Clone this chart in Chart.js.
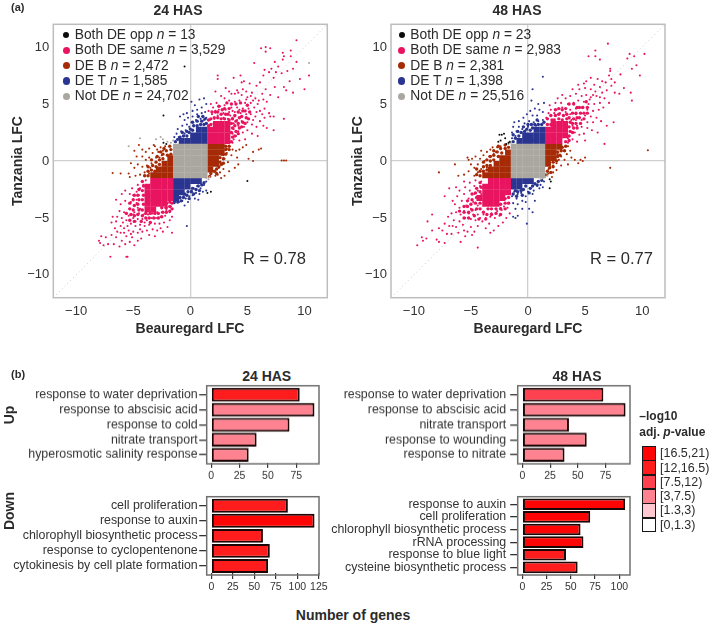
<!DOCTYPE html>
<html><head><meta charset="utf-8">
<script src="https://cdn.jsdelivr.net/npm/chart.js@4"></script>
<style>
html,body{margin:0;padding:0;background:#fff;width:709px;height:625px;overflow:hidden;font-family:"Liberation Sans",Arial,sans-serif;color:#2b2b2b}
canvas{position:absolute;display:block}
.t{position:absolute;white-space:nowrap;z-index:5;line-height:1}
.s{position:absolute;box-sizing:border-box;z-index:5}
</style></head><body>
<script>
// ---------- scatter: shared solid core of the not-DE square ----------
const notCore=[[-1.25,-1.25],[-.75,-1.25],[-.25,-1.25],[.25,-1.25],[.75,-1.25],[1.25,-1.25],[-1.25,-.75],[-.75,-.75],[-.25,-.75],[.25,-.75],[.75,-.75],[1.25,-.75],[-1.25,-.25],[-.75,-.25],[-.25,-.25],[.25,-.25],[.75,-.25],[1.25,-.25],[-1.25,.25],[-.75,.25],[-.25,.25],[.25,.25],[.75,.25],[1.25,.25],[-1.25,.75],[-.75,.75],[-.25,.75],[.25,.75],[.75,.75],[1.25,.75],[-1.25,1.25],[-.75,1.25],[-.25,1.25],[.25,1.25],[.75,1.25],[1.25,1.25]];

// ---------- 24 HAS ----------
const same24Core=[[1.75,1.75],[1.75,2.25],[1.75,2.75],[2.25,1.75],[2.25,2.25],[2.25,2.75],[2.25,3.25],[2.75,1.75],[2.75,2.25],[2.75,2.75],[2.75,3.25],[3.25,1.75],[3.25,2.25],[3.25,2.75],[3.25,3.25],[-1.75,-1.75],[-1.75,-2.25],[-1.75,-2.75],[-1.75,-3.25],[-2.25,-1.75],[-2.25,-2.25],[-2.25,-2.75],[-2.25,-3.25],[-2.25,-3.75],[-2.75,-1.75],[-2.75,-2.25],[-2.75,-2.75],[-2.75,-3.25],[-2.75,-3.75],[-3.25,-1.75],[-3.25,-2.25],[-3.25,-2.75],[-3.25,-3.25],[-3.25,-3.75],[-3.25,-4.25],[-3.75,-2.25],[-3.75,-2.75],[-3.75,-3.25],[-3.75,-3.75],[-3.75,-4.25]];
const same24Halo=[[3.6,1.7],[3.7,2.1],[3.6,2.5],[3.7,2.9],[3.6,3.3],[3.7,3.7],[3.9,2.2],[4,2.6],[3.9,3.1],[4,3.5],[3.9,4],[4.2,2.4],[4.3,2.9],[4.2,3.3],[4.3,3.8],[4.2,4.3],[4.5,3],[4.6,3.4],[4.5,3.9],[4.6,4.4],[4.8,3.3],[4.9,3.8],[4.8,4.4],[5.1,3.7],[5.2,4.3],[5,4.9],[3.4,3.6],[3.3,4.1],[3.4,4.6],[3,3.7],[3.1,4.1],[3,4.6],[2.7,3.7],[2.7,4.1],[2.8,4.5],[2.4,3.8],[2.4,4.3],[2.5,4.8],[2.1,3.3],[2.1,3.8],[2.2,4.3],[1.8,3.2],[1.8,3.7],[1.9,4.3],[1.6,3.1],[1.6,3.6],[3.6,5],[4,5],[4.4,5.1],[3.2,5.1],[-4.2,-1.8],[-4.1,-2.2],[-4.2,-2.6],[-4.1,-3],[-4.2,-3.4],[-4.1,-3.8],[-4.2,-4.3],[-4.5,-2.5],[-4.6,-3],[-4.5,-3.4],[-4.6,-3.8],[-4.5,-4.3],[-4.6,-4.7],[-4.9,-3],[-5,-3.4],[-4.9,-3.9],[-5,-4.3],[-4.9,-4.8],[-5.3,-3.7],[-5.3,-4.2],[-5.2,-4.7],[-5.3,-5.2],[-3.9,-4.6],[-4.2,-4.8],[-3.9,-5],[-4.3,-5.3],[-3.5,-4.6],[-3.6,-5],[-3.5,-5.4],[-3.1,-4.6],[-3.2,-5],[-2.8,-4.6],[-2.8,-5],[-2.5,-4.1],[-2.4,-4.5],[-2.5,-4.9],[-2.1,-3.7],[-2.1,-4.1],[-2.1,-4.5],[-1.8,-3.6],[-1.8,-4],[-1.8,-4.4],[-1.6,-3.7],[-1.6,-4.2],[-4.9,-5.3],[-5.6,-4.6]];
const same24=[[9.3,10.6],[6.2,9.9],[6.6,10],[7,9.9],[6.6,9.6],[8.1,9.5],[8.2,9.2],[8.8,9.7],[8.8,9.2],[8.1,8.9],[9.3,8.7],[10.4,7.5],[10,6.3],[5.6,8.6],[7.4,8.7],[7.7,8.3],[7.1,8.1],[7.5,7.8],[6.9,7.8],[6.5,8],[6.4,7.5],[7.3,7.3],[8,7.7],[8.5,7.9],[9,8.1],[8.7,7],[8.2,6.5],[8.4,6.2],[9,6],[9.6,7.2],[2.4,7.5],[2.4,7.2],[3.8,7.3],[4.4,7.5],
[3.6,5.9],[3.9,5.9],[4.2,6],[4.5,5.8],[4.1,6.2],[4.6,6.3],[4.9,6.1],[5,5.6],[5.4,6],[5.7,5.5],[6,5.3],[6.3,5.9],[5.8,6.6],[5.2,6.8],[4.7,7],[6.1,6.9],[6.6,6.3],[7,5.8],[7.4,6.5],[6.7,5.2],[5.3,5.1],[4.8,5.1],[4.3,5.3],[3.9,5.2],[3.4,5.3],[3,5.5],[2.7,5.7],[2.3,5.1],[2,4.7],[2.5,4.5],[3,4.9],[3.6,4.7],[4.1,4.7],[4.6,4.6],[5.1,4.6],[5.6,4.7],[6.1,4.4],[6.5,4.6],[6.9,4.2],[7,3.9],[7.3,3.9],[6.5,3.8],[6.1,3.5],[5.7,3.9],[5.3,4.1],[4.9,4.1],[4.4,4.2],[3.9,4.3],[3.4,4.3],[2.9,4.2],[2.4,4],[1.9,4.1],[1.7,3.6],[1.6,4.4],[2.1,3.7],[3.7,3.8],[4.1,3.6],[4.5,3.5],[5,3.4],[5.4,3.2],[5.8,3],[6.4,3.1],[7.3,2.7],[8.2,3.7],[6.7,2.9],[4.7,3],[4.2,3.1],[3.8,3.3],[3.8,2.8],[4.2,2.6],[4.6,2.5],[5,2.7],[5.4,2.4],[5.9,2.2],[4,2.2],[3.8,1.9],[4.3,1.8],[3.7,2.4],[4.8,1.9],[3.7,1.6],[3.9,3.9],[2.9,3.8],[3.3,3.7],[3.5,4],[3.7,4.4],[4.3,4.5],[3.1,4.5],[2.6,4.8],[2.2,4.4],[1.8,5],[5.5,5.3],[5.9,5],[6.4,5.4],[4.9,5.4],[5.3,5.7],[5.8,4.3],[6.3,4.1],[5.5,3.6],[4.5,6.9],[3.4,6.1],[3.1,6.4],[2.2,6.1],[7.7,5.6],
[-8,-7],[-7.9,-7.2],[-7.8,-6.6],[-7.6,-7.4],[-7.4,-6.7],[-7.2,-7.3],[-7,-8.4],[-6.9,-6.5],[-6.7,-7.3],[-6.5,-6.7],[-6.2,-7.5],[-6,-7],[-5.7,-7.3],[-5.5,-8.4],[-5.6,-8.4],[-5.3,-7.1],[-4.9,-7.4],[-4.6,-7],[-4.3,-6.8],[-5.1,-6.7],[-5.6,-6.6],[-6.1,-6.3],[-6.6,-5.9],[-6.9,-5.4],[-6.5,-5.3],[-6.1,-5.7],[-5.8,-5.9],[-5.4,-6.1],[-5,-6.2],[-4.6,-6.3],[-4.2,-6.2],[-3.8,-6.1],[-3.3,-6],[-2.9,-6.1],[-2.4,-6.2],[-1.6,-6.3],[-2,-5.8],[-2.3,-5.4],[-1.8,-5.2],[-2.7,-5.5],[-3.1,-5.5],[-3.6,-5.6],[-4,-5.7],[-4.4,-5.6],[-4.8,-5.7],[-5.2,-5.5],[-5.6,-5.2],[-6,-5],[-6.2,-4.4],[-6.5,-3.4],[-6.1,-3.8],[-5.8,-4.5],[-5.4,-4.8],[-5,-5],[-4.6,-5.1],[-4.2,-5.1],[-3.8,-5.2],[-3.4,-5],[-3,-5],[-2.6,-4.9],[-2.2,-4.8],[-1.8,-4.5],[-1.6,-4.9],[-5.7,-3.5],[-5.3,-4.2],[-4.9,-4.5],[-4.5,-4.6],[-4.1,-4.7],[-3.7,-4.7],[-3.3,-4.6],[-2.9,-4.5],[-2.5,-4.5],[-2.1,-4.3],[-1.7,-4],[-5.2,-3.6],[-4.9,-3.9],[-4.6,-4.1],[-4.7,-3.4],[-5,-3],[-5.3,-2.9],[-4.7,-2.7],[-4.5,-3],[-4.4,-2.4],[-4.1,-2.1],[-4.2,-1.8],[-3.9,-1.7],[-4.6,-2.1],[-5.1,-2.4],[-5.7,-2.6],[-6,-2.9],[-4.4,-4.2],[-5,-4.7],[-5.5,-5.7],[-4.8,-5.3],[-5.9,-5.4],[-3.5,-5.4],[-4,-5.4],[-2.2,-4.1],[-2,-3.7],[-4.7,-3.7],[-5.8,-6.3],[-5.2,-6.4],[-4.4,-6],[-3.6,-6.5],[-3.1,-6.6],[-2.6,-5.9],[-6.4,-6.2],[-6.8,-4.9],[-6.4,-4.9]];
const deb24Core=[[1.75,-.75],[1.75,-.25],[1.75,.25],[1.75,.75],[1.75,1.25],[2.25,-.25],[2.25,.25],[2.25,.75],[2.25,1.25],[2.75,.75],[2.75,1.25],[-1.75,-1.25],[-1.75,-.75],[-1.75,-.25],[-1.75,.25],[-2.25,-1.25],[-2.25,-.75],[-2.25,-.25],[-2.75,-1.25],[-2.75,-.75],[-3.25,-1.25]];
const deb24Halo=[[2.6,-.1],[2.6,.3],[2.9,.2],[2.8,.6],[3.1,.6],[3.1,1],[3.1,1.3],[3.4,1],[3.4,1.3],[2.5,-.5],[2.3,-.7],[2.1,-.9],[1.8,-1.1],[2.3,-1.1],[1.7,-1.35],[2.7,-.3],[2.9,-.2],[-1.7,.6],[-1.7,1],[-2,.5],[-2.1,.9],[-2.4,.2],[-2.4,.6],[-2.7,-.3],[-2.7,.1],[-2.9,.4],[-3,-.5],[-3,-.1],[-3.1,-.9],[-3.4,-.8],[-3.3,-.4],[-3.4,.1],[-3.7,-1.3],[-3.7,-.9],[-3.7,-.5],[-4,-1.3],[-1.8,1.3],[-2.3,1.1],[-2.6,.8]];
const deb24=[[3.4,1.3],[3.7,1],[3.2,.7],[3.6,.5],[4,.9],[4.3,1],[4.1,.3],[3,.2],[3.3,-.1],[2.8,-.3],[2.9,-.7],[2.5,-.6],[2.6,-1],[2.7,-1.5],[2.4,-1.2],[2.2,-1.3],[2.9,.5],[3.2,1.1],[4.6,1.2],[4.9,1.4],[5.5,.8],[5.1,.2],[6,1],[6.2,1.1],[8.2,.05],[8.4,.05],[8,.05],[5.5,0],[4.2,-.3],[3.9,-.6],[3.4,-.9],[3,-1.3],[2.2,-.9],[-6.8,-1.05],[-6.1,-1.1],[-5.4,-1.1],[-4.7,.4],[-4.9,.9],[-4.5,1.4],[-4.2,1],[-4.2,.4],[-3.9,.1],[-3.9,.8],[-3.6,.3],[-3.6,1.1],[-3.3,.7],[-3.1,1.3],[-3,.3],[-3.4,-.2],[-3.8,-.4],[-4.2,-.5],[-4.6,-.3],[-4.9,-.6],[-5.2,-.2],[-4,-1],[-3.6,-1.1],[-4.4,-1.2],[-4.8,-1.3],[-5.3,-1.4],[-2.8,.8],[-2.6,1.2],[-2.7,.3],[-2.4,.9],[-2.5,.5],[-2.9,1],[-2.2,1.3],[-3.2,1.4],[-3.5,-.6]];
const det24Core=[[-.75,1.75],[-.25,1.75],[.25,1.75],[.75,1.75],[1.25,1.75],[.25,2.25],[.75,2.25],[1.25,2.25],[.75,2.75],[1.25,2.75],[-1.25,-1.75],[-.75,-1.75],[-.25,-1.75],[.25,-1.75],[.75,-1.75],[-1.25,-2.25],[-.75,-2.25],[-.25,-2.25],[-1.25,-2.75],[-.75,-2.75],[-1.25,-3.25]];
const det24Halo=[[-1.3,1.7],[-1.1,1.9],[-.9,2.1],[-.6,2.2],[-.3,2.2],[-.1,2.5],[-.3,2.6],[0,2.8],[.2,2.7],[.3,3.1],[.6,3.1],[.9,3.2],[1.2,3.2],[1.4,3.3],[.6,3.5],[1,3.5],[1.3,3.7],[-.7,2.5],[.2,3.4],[.7,3.9],[1.1,3.9],[1,-2.1],[1.2,-1.9],[.7,-2.2],[.5,-2.5],[.2,-2.4],[.1,-2.7],[-.2,-2.7],[-.3,-3],[-.5,-2.9],[-.6,-3.2],[-.9,-3.2],[-.8,-3.5],[-1.1,-3.6],[-1.4,-3.6],[.3,-2.9],[.8,-2.6],[-.1,-3.3]];
const det24=[[.1,5.2],[.4,4.9],[.8,5.4],[1.2,5.5],[1,4.7],[1.4,5],[.6,4.5],[.2,4.4],[-.3,4.2],[-.6,4.1],[-.9,3.9],[-.5,3.6],[-.2,3.8],[.2,3.9],[.6,4.1],[1,4.2],[1.3,4.3],[.9,3.7],[.5,3.6],[.1,3.4],[-.3,3.2],[-.7,3.1],[-1.1,2.8],[-1.2,2.4],[-.8,2.6],[-.4,2.7],[-1.4,2.1],[-.1,3],[.3,3.1],[-.5,2.4],[-1,2.1],[1.4,3.8],[1.2,3.6],[.3,-2.4],[.6,-2.2],[.9,-2.4],[1.2,-2.1],[1.4,-1.8],[.5,-2.8],[.8,-2.9],[1.1,-2.7],[.2,-3],[-.1,-3.1],[.4,-3.3],[-.4,-3.3],[-.7,-3.5],[-1,-3.6],[-1.3,-3.5],[-.2,-3.6],[-.5,-3.9],[-.3,-5.7],[.7,-3.4],[1.4,-2.6],[-1.4,-3.7],[-.9,-3.3],[-.6,-3.1],[.1,-2.6]];
const opp24=[[-2.35,4],[-.5,8.3],[5,-1.75],[-2.35,1.6],[-2.1,1.5],[1.8,-2.7],[1.5,-2.8]];
const not24=[[-5.4,1.3],[-4.4,2],[-2.6,2.1],[-2.4,1.9],[-2,1.7],[-1.7,1.6],[-1.5,1.8],[-3,1.9],[1.7,-1.4],[1.6,-1.6],[1.4,-1.5],[10.4,8.6]];

// ---------- 48 HAS ----------
const same48Core=[[1.75,1.75],[1.75,2.25],[1.75,2.75],[2.25,1.75],[2.25,2.25],[2.25,2.75],[2.25,3.25],[2.75,1.75],[2.75,2.25],[2.75,2.75],[2.75,3.25],[3.25,2.25],[3.25,2.75],[3.25,3.25],[-1.75,-1.75],[-1.75,-2.25],[-1.75,-2.75],[-2.25,-1.75],[-2.25,-2.25],[-2.25,-2.75],[-2.25,-3.25],[-2.75,-1.75],[-2.75,-2.25],[-2.75,-2.75],[-2.75,-3.25],[-2.75,-3.75],[-3.25,-1.75],[-3.25,-2.25],[-3.25,-2.75],[-3.25,-3.25],[-3.25,-3.75],[-3.75,-2.25],[-3.75,-2.75],[-3.75,-3.25],[-3.75,-3.75],[-4.25,-3.25]];
const same48Halo=[[3.3,1.7],[3.6,1.8],[3.6,2.2],[3.7,2.6],[3.6,3],[3.7,3.4],[3.6,3.8],[3.9,2.5],[4,2.9],[3.9,3.3],[4,3.7],[3.9,4.2],[4.3,2.9],[4.2,3.3],[4.3,3.8],[4.2,4.2],[4.3,4.7],[4.6,3.3],[4.5,3.8],[4.6,4.2],[4.5,4.7],[4.9,3.7],[4.9,4.2],[4.8,4.7],[5.2,4.2],[5.2,4.7],[5.1,5.2],[3.4,3.7],[3.4,4.1],[3.3,4.6],[3,3.6],[3.1,4],[3,4.5],[2.7,3.7],[2.7,4.1],[2.7,4.6],[2.3,3.6],[2.4,4],[2.4,4.5],[2,3.2],[2.1,3.6],[2,4],[1.7,3.2],[1.7,3.7],[3.6,5],[4,5],[-4.2,-1.9],[-4.1,-2.3],[-4.2,-2.7],[-4.5,-2.4],[-4.6,-2.8],[-4.5,-3.2],[-4.6,-3.7],[-4.2,-3.7],[-4.2,-4.2],[-4.5,-4.2],[-4.9,-2.9],[-4.9,-3.4],[-5,-3.8],[-4.9,-4.3],[-5.3,-3.5],[-5.3,-4],[-5.2,-4.5],[-5.6,-4],[-5.6,-4.5],[-5.6,-5],[-5.2,-5],[-4.7,-4.8],[-3.9,-4.5],[-3.5,-4.2],[-3.6,-4.7],[-3.2,-4.2],[-3.2,-4.7],[-2.8,-4.2],[-2.8,-4.6],[-2.4,-3.8],[-2.4,-4.2],[-2.4,-4.7],[-2,-3.3],[-2,-3.7],[-2,-4.2],[-1.7,-3.2],[-1.7,-3.7],[-4.3,-5.1],[-3.7,-5.1],[-6,-4.4]];
const same48=[[7,10.3],[5.9,9.7],[5.3,9.2],[5.9,9.2],[6.3,8.9],[8.9,9.4],[10.2,9.4],[9.3,9.2],[8.7,9],[9.5,8.4],[9.1,8.1],[9.8,7.5],[8.1,7.6],[7.2,7.9],[7.2,8.1],[7.1,7.5],[6.8,6.9],[8.4,6.4],[9,6],[9.1,5.3],[8,5.9],[7.1,5.1],[7.5,3.4],[6.7,1.5],[6.9,3.1],[7.3,7.2],[6.5,7],[6.1,7.2],[5.5,7.3],[5.1,7],[4.9,6.8],[5.8,6.7],[6.3,6.5],[6.9,6.2],[7.3,6.6],[7.6,6],[5.5,6.3],[5,6.4],[4.5,6.3],[5.7,5.8],[6,5.7],[6.3,5.6],[5.5,5.6],[5.1,5.8],[4.7,5.7],[4.2,5.9],[3.7,5.7],[3.3,5.5],[2.9,5.1],[2.4,5.1],[1.9,4.9],[2,4.5],[2.5,4.5],[3,4.7],[3.5,5],[4,5.1],[4.4,5.3],[4.9,5.2],[5.3,5],[5.8,5],[6.3,5.1],[6.6,4.7],[6.2,4.5],[5.7,4.4],[5.2,4.5],[4.7,4.7],[4.2,4.6],[3.7,4.5],[3.3,4.3],[2.8,4.2],[2.3,4.2],[1.8,4.2],[1.6,3.8],[3.7,4.1],[4.2,4.1],[4.6,4.2],[5,4],[5.5,3.9],[6,3.8],[6.4,3.5],[5.7,3.4],[5.2,3.4],[4.7,3.6],[4.2,3.6],[3.8,3.6],[3.9,3.1],[4.3,3.1],[4.7,3],[5.2,2.9],[5.6,2.7],[6.1,2.5],[3.7,2.6],[4.1,2.5],[4.5,2.3],[4.9,2.4],[3.5,2],[3.9,1.9],[4.3,1.7],[3.5,1.6],[5,1.8],[5.4,5.4],[5.9,6.1],[6.5,6],[4.4,6.7],[3.9,6.3],[3,5.8],[2.6,5.5],[7.6,6.9],[6.7,5.5],
[-9.7,-7.4],[-9.3,-6.7],[-9.2,-7],[-8.9,-6.8],[-8.4,-4.7],[-8.8,-5.3],[-8,-6.9],[-7.8,-7.1],[-7.3,-7.2],[-8.4,-6.1],[-6.7,-6.4],[-5.9,-7.1],[-4.4,-7.6],[-6.9,-2.4],[-7.3,-3.1],[-5.6,-6.1],[-7.8,-5.9],[-7.5,-6.1],[-7.3,-5.5],[-7.1,-6.4],[-6.9,-5.7],[-6.5,-5.2],[-6.3,-5.8],[-6,-5.3],[-5.7,-5.6],[-5.3,-6.2],[-5,-5.8],[-4.7,-6.2],[-4.4,-5.7],[-4,-5.3],[-3.7,-5.9],[-3.4,-5.5],[-3,-6.1],[-2.6,-5.7],[-2.2,-5.4],[-1.9,-5],[-2.5,-4.8],[-2.9,-5],[-3.3,-4.9],[-3.7,-5],[-4.2,-5],[-4.6,-5.2],[-5,-5.1],[-5.5,-5],[-5.9,-4.7],[-6.3,-4.5],[-6.7,-4.6],[-6.4,-3.8],[-6,-4.1],[-5.6,-4.4],[-5.2,-4.6],[-4.8,-4.7],[-4.4,-4.7],[-3.9,-4.7],[-3.2,-4.6],[-2.7,-4.4],[-2.3,-4.3],[-1.8,-4.1],[-1.6,-4.6],[-6.2,-3.1],[-5.8,-3.5],[-5.4,-3.9],[-5,-4.2],[-4.6,-4.3],[-4.4,-3.9],[-4.8,-3.6],[-5.2,-3.3],[-5.6,-2.9],[-6,-2.6],[-6.3,-2.3],[-5.5,-2.3],[-5.1,-2.6],[-4.7,-2.9],[-4.4,-2.6],[-4.7,-2.2],[-4.2,-2.2],[-4.1,-1.8],[-4.6,-1.7],[-5.1,-1.9],[-5.6,-1.8],[-4.1,-2.9],[-2.1,-4],[-2.4,-4.1],[-1.7,-3.7],[-6.1,-6.3],[-5.5,-6.6],[-4.9,-6.5],[-6.6,-5.7],[-7,-4.9],[-6.6,-3.5],[-3.3,-6.3]];
const deb48Core=[[1.75,-.25],[1.75,.25],[1.75,.75],[1.75,1.25],[2.25,.25],[2.25,.75],[2.25,1.25],[2.75,1.25],[-1.75,-1.25],[-1.75,-.75],[-1.75,-.25],[-1.75,.25],[-1.75,.75],[-2.25,-1.25],[-2.25,-.75],[-2.25,-.25],[-2.25,.25],[-2.75,-1.25],[-2.75,-.75],[-2.75,-.25],[-3.25,-1.25],[-3.25,-.75],[-3.75,-1.25]];
const deb48Halo=[[2.6,.4],[2.6,.8],[2.9,.9],[3,1.2],[3.2,.9],[2.5,0],[2.2,-.1],[2.2,-.5],[1.9,-.6],[1.7,-.9],[2,-1],[1.6,-1.2],[2.8,.5],[3.3,1.3],[-1.7,1.2],[-2,1.1],[-2,1.4],[-2.3,.7],[-2.4,1.1],[-2.6,.4],[-2.7,.8],[-3,.1],[-3,.5],[-3,.9],[-3.3,-.4],[-3.3,0],[-3.3,.4],[-3.6,-.8],[-3.6,-.4],[-3.6,.1],[-3.9,-.9],[-3.9,-.5],[-3.9,-.1],[-4.2,-1.3],[-4.2,-.9],[-4.5,-1.2],[-4.5,-.7],[-2.6,1.3]];
const deb48=[[10.5,.95],[7.2,-.6],[5,.3],[4.8,0],[4.4,-.2],[4.1,.1],[4.6,.1],[3.7,.9],[3.4,.6],[3.1,.9],[3.5,1.3],[2.9,.4],[3.2,.1],[2.7,.1],[2.6,.6],[2.5,-.2],[2.9,-.4],[2.2,-.4],[2.5,-.8],[2.2,-1],[1.8,-.7],[1.8,-1.1],[2.1,-1.4],[3.5,-.3],[2.9,1.1],[3.8,.3],[-7.8,-1],[-6.4,-.3],[-5.3,.3],[-5.2,.1],[-4.9,.2],[-5,-.3],[-4.7,-.6],[-4.4,-.3],[-4.6,.4],[-4.1,.9],[-4.2,.2],[-3.9,.5],[-3.6,.8],[-3.8,0],[-3.4,.4],[-3.3,1],[-3.1,1.2],[-2.8,.8],[-2.7,1.2],[-3,.6],[-2.4,1.3],[-4.4,-1],[-4.1,-.7],[-3.9,-.5],[-4.7,-1.3],[-5.2,-.9],[-5.6,-1.2],[-4.2,-1.3],[-3.6,-.6],[-6.1,-1.3]];
const det48Core=[[-.75,1.75],[-.25,1.75],[.25,1.75],[.75,1.75],[1.25,1.75],[-.25,2.25],[.25,2.25],[.75,2.25],[1.25,2.25],[.75,2.75],[1.25,2.75],[-1.25,-1.75],[-.75,-1.75],[-.25,-1.75],[.25,-1.75],[-1.25,-2.25],[-.75,-2.25]];
const det48Halo=[[-1.3,1.7],[-1.1,2],[-.8,2.2],[-.6,2.5],[-.9,2.6],[-.3,2.6],[-.1,2.8],[.2,2.7],[.4,2.9],[.3,3.2],[.6,3.2],[.9,3.2],[1.2,3.2],[1.4,3.4],[.8,3.6],[-1.3,2.3],[-.4,3],[0,3.2],[.6,1.8],[.9,-1.8],[.8,-2.1],[.6,-2],[1.2,-1.7],[.4,-2.2],[.2,-2.4],[-.2,-2.2],[-.4,-2.5],[-.6,-2.6],[-.9,-2.7],[-1.1,-2.6],[-1.3,-2.9],[-1,-3.1],[-.5,-3],[.1,-2.8]];
const det48=[[1.3,7.4],[.4,6.3],[.3,5.3],[.9,5],[1.4,5.1],[.6,4.6],[1,4.5],[.2,4.4],[-.1,4.1],[.4,4],[.8,4],[1.3,4.3],[-.4,3.8],[-.8,3.5],[-1.2,3.4],[-1.3,3],[-.8,3],[-.3,3.3],[.1,3.5],[.5,3.4],[.9,3.5],[1.3,3.6],[-1,2.6],[-.5,2.8],[0,3],[-1.4,2.5],[-1.1,2.2],[-1.4,2],[-.2,2.7],[.7,3.1],[1,-2.4],[.8,-2.2],[.5,-2.6],[1.1,-2.1],[1.4,-1.8],[1.3,-2.3],[.2,-2.4],[.4,-2.9],[0,-2.7],[-.2,-3.1],[-.6,-2.8],[-.9,-2.9],[-1.2,-2.7],[-1.4,-3.1],[-1,-3.3],[-.5,-3.5],[-.2,-3.6],[-1.3,-3.7],[-.9,-3.8],[-1.1,-4.2],[.1,-4.2],[.4,-4.5],[-.9,-4.8],[-1.3,-4.9],[-1.1,-5],[-.1,-5.5],[-.5,-4.2],[.6,-3.5]];
const opp48=[[-2.5,2.3],[-2.3,2.3],[-2.1,2.4],[-2.6,1.7],[-2.4,1.8],[-2,2],[-1.7,1.6],[-1.6,1.7],[-1.9,1.5],[1.9,-1.6],[1.9,-2.4],[2,-1.8]];
const not48=[[1.7,-1.3],[1.5,-1.4],[1.3,-1.5],[1.1,-1.6],[1.6,-1.1],[-1.7,1.5],[-1.5,1.6]];

// ---------- axes of the scatter panels ----------
const lfcTicks=[-10,-5,0,5,10];
const diagonal=[[-12,-12],[12,12]];
const groupColours={opp:'#0b0b0b',same:'#E8145F',deb:'#A62A06',det:'#2A3591',not:'#AAA6A0'};

// ---------- bars ----------
const up24Cats=['response to water deprivation','response to abscisic acid','response to cold','nitrate transport','hyperosmotic salinity response'];
const up24Vals=[78,91,69,40,33];
const up24Bins=[1,3,3,3,3];
const down24Cats=['cell proliferation','response to auxin','chlorophyll biosynthetic process','response to cyclopentenone','cytokinesis by cell plate formation'];
const down24Vals=[89,120,60,68,66];
const down24Bins=[1,0,1,1,1];
const up48Cats=['response to water deprivation','response to abscisic acid','nitrate transport','response to wounding','response to nitrate'];
const up48Vals=[73,93,42,58,38];
const up48Bins=[2,3,3,3,3];
const down48Cats=['response to auxin','cell proliferation','chlorophyll biosynthetic process','rRNA processing','response to blue light','cysteine biosynthetic process'];
const down48Vals=[106,70,60,63,45,57];
const down48Bins=[0,0,0,0,1,1];
const binLabels=['[16.5,21)','[12,16.5)','[7.5,12)','[3,7.5)','[1.3,3)','[0,1.3)'];
const binColours=['#FF0404','#FF1C1C','#FF4150','#FF8290','#FFC8D0','#FFFFFF'];

const FF='"Liberation Sans",Arial,sans-serif';
function txt(x,y,html,o={}){
  const d=document.createElement('div');d.className='t';d.innerHTML=html;
  d.style.left=x+'px';d.style.top=y+'px';
  d.style.fontSize=(o.size||13)+'px';d.style.fontWeight=o.bold?'700':'400';
  if(o.color)d.style.color=o.color;
  d.style.transform=(o.left?'translate(0,-50%)':'translate(-50%,-50%)')+(o.rot?' rotate(-90deg)':'');
  document.body.appendChild(d);
}
function cv(l,t,w,h){
  const c=document.createElement('canvas');
  c.width=w;c.height=h;c.style.left=l+'px';c.style.top=t+'px';c.style.width=w+'px';c.style.height=h+'px';
  document.body.appendChild(c);return c;
}
const frame=(col,lw,inset=0)=>({id:'frame',afterDraw(ch){const a=ch.chartArea,g=ch.ctx;g.save();g.strokeStyle=col;g.lineWidth=lw;g.strokeRect(a.left,a.top-inset,a.right-a.left,a.bottom-a.top+2*inset);g.restore();}});

function pts(data,colour,r,style,order){return {type:'scatter',data,backgroundColor:colour,pointBackgroundColor:colour,pointBorderWidth:0,pointRadius:r,pointHoverRadius:r,pointStyle:style,showLine:false,order};}

function scatter(l,boxL,sets){
  const w=340,h=325,top=24.3,boxW=274,boxH=273.4;
  new Chart(cv(l,0,w,h),{
    data:{datasets:[
      {type:'line',data:diagonal,borderColor:'#c9c9c9',borderWidth:1,borderDash:[1,3],pointRadius:0,order:10},
      pts(sets.sameCore,groupColours.same,4.2,'rect',6),
      pts(sets.debCore,groupColours.deb,4.2,'rect',6),
      pts(sets.detCore,groupColours.det,4.2,'rect',6),
      pts(sets.sameHalo,groupColours.same,1.7,'circle',7),
      pts(sets.debHalo,groupColours.deb,1.7,'circle',7),
      pts(sets.detHalo,groupColours.det,1.7,'circle',7),
      pts(sets.same,groupColours.same,1.05,'circle',7),
      pts(sets.deb,groupColours.deb,1.05,'circle',7),
      pts(sets.det,groupColours.det,1.05,'circle',7),
      pts(notCore,groupColours.not,4.2,'rect',3),
      pts(sets.not,groupColours.not,1,'circle',4),
      pts(sets.opp,groupColours.opp,1,'circle',1)
    ]},
    options:{
      responsive:false,animation:false,events:[],
      layout:{padding:{top,left:0,right:w-(boxL-l)-boxW,bottom:h-top-boxH-20}},
      plugins:{legend:{display:false},tooltip:{enabled:false}},
      scales:{
        x:{type:'linear',min:-12,max:12,afterBuildTicks:s=>{s.ticks=lfcTicks.map(value=>({value}));},afterFit:s=>{s.height=20;s.paddingLeft=0;s.paddingRight=0;},
          grid:{drawTicks:false,lineWidth:1.3,color:c=>c.tick&&c.tick.value===0?'#cfcfcf':'rgba(0,0,0,0)'},border:{display:false},
          ticks:{padding:5.5,color:'#333',font:{family:FF,size:13},maxRotation:0,autoSkip:false,callback:v=>String(v).replace('-','\u2212')}},
        y:{type:'linear',min:-12,max:12,afterBuildTicks:s=>{s.ticks=lfcTicks.map(value=>({value}));},afterFit:s=>{s.width=boxL-l;s.paddingTop=0;s.paddingBottom=0;},
          grid:{drawTicks:false,lineWidth:1.3,color:c=>c.tick&&c.tick.value===0?'#cfcfcf':'rgba(0,0,0,0)'},border:{display:false},
          ticks:{padding:4,color:'#333',font:{family:FF,size:13},autoSkip:false,callback:v=>String(v).replace('-','\u2212')}}
      }
    },
    plugins:[frame('#bdbdbd',1.5)]
  });
}
scatter(0,53.3,{sameCore:same24Core,debCore:deb24Core,detCore:det24Core,sameHalo:same24Halo,debHalo:deb24Halo,detHalo:det24Halo,same:same24,deb:deb24,det:det24,not:not24,opp:opp24});
scatter(345,391,{sameCore:same48Core,debCore:deb48Core,detCore:det48Core,sameHalo:same48Halo,debHalo:deb48Halo,detHalo:det48Halo,same:same48,deb:deb48,det:det48,not:not48,opp:opp48});

function bars(l,t,boxL,boxR,boxT,boxB,xMin,xMax,cats,vals,bins,ticks,pad){
  const n=cats.length,band=(boxB-boxT)/(n+0.2),inset=band*0.1,w=boxR-l+14,h=boxB-t+22;
  new Chart(cv(l,t,w,h),{
    type:'bar',
    data:{labels:cats,datasets:[{data:vals,backgroundColor:bins.map(b=>binColours[b]),borderColor:'#1c0505',borderWidth:2,borderSkipped:false,barPercentage:1,categoryPercentage:0.92}]},
    options:{
      indexAxis:'y',responsive:false,animation:false,events:[],
      layout:{padding:{top:boxT-t+inset,left:0,right:w-(boxR-l),bottom:0}},
      plugins:{legend:{display:false},tooltip:{enabled:false}},
      scales:{
        x:{type:'linear',min:xMin,max:xMax,afterBuildTicks:s=>{s.ticks=ticks.map(value=>({value}));},afterFit:s=>{s.height=h-(boxB-t)+inset;s.paddingLeft=0;s.paddingRight=0;},
          grid:{display:true,drawOnChartArea:false,drawTicks:true,tickLength:4+inset,color:'#333',lineWidth:1.2},border:{display:false},
          ticks:{padding:1.5,color:'#333',font:{family:FF,size:10.5},maxRotation:0,autoSkip:false}},
        y:{type:'category',afterFit:s=>{s.width=boxL-l;s.paddingTop=0;s.paddingBottom=0;},
          grid:{display:true,offset:false,drawOnChartArea:false,drawTicks:true,tickLength:7.5,color:'#333',lineWidth:1.3},border:{display:false},
          ticks:{padding:pad,color:'#333',font:{family:FF,size:12.4},autoSkip:false}}
      }
    },
    plugins:[frame('#6f6f6f',1.5,inset)]
  });
}
const tUp=[0,25,50,75],tDn24=[0,25,50,75,100,125],tDn48=[0,25,50,75,100];
bars(0,384,206.7,319.3,385.7,463.7,-4,95,up24Cats,up24Vals,up24Bins,tUp,1.5);
bars(0,495,206.7,319.3,496.7,575,-5.4,125.2,down24Cats,down24Vals,down24Bins,tDn24,1.5);
bars(325,384,517.7,630,385.7,463.7,-4.2,97,up48Cats,up48Vals,up48Bins,tUp,4);
bars(325,495,517.7,630,496.7,575,-4.8,111,down48Cats,down48Vals,down48Bins,tDn48,4);

// ---------- text ----------
txt(11,7,'(a)',{size:11,bold:true,left:true});
txt(11,374,'(b)',{size:11,bold:true,left:true});
txt(178,9.5,'24 HAS',{size:14,bold:true});
txt(517,9.5,'48 HAS',{size:14,bold:true});
txt(17,161,'Tanzania LFC',{size:14,bold:true,rot:true});
txt(357,161,'Tanzania LFC',{size:14,bold:true,rot:true});
txt(190,328,'Beauregard LFC',{size:14,bold:true});
txt(528,328,'Beauregard LFC',{size:14,bold:true});
txt(243,258,'R = 0.78',{size:16.5,left:true});
txt(590,258,'R = 0.77',{size:16.5,left:true});
const leg24=['Both DE opp <i>n</i> = 13','Both DE same <i>n</i> = 3,529','DE B <i>n</i> = 2,472','DE T <i>n</i> = 1,585','Not DE <i>n</i> = 24,702'];
const leg48=['Both DE opp <i>n</i> = 23','Both DE same <i>n</i> = 2,983','DE B <i>n</i> = 2,381','DE T <i>n</i> = 1,398','Not DE <i>n</i> = 25,516'];
const legCols=[groupColours.opp,groupColours.same,groupColours.deb,groupColours.det,groupColours.not];
const legY=[35,50.3,65.7,81,96.3];
function dot(x,y,c,r){const d=document.createElement('div');d.className='s';d.style.cssText+=`left:${x-r}px;top:${y-r}px;width:${2*r}px;height:${2*r}px;border-radius:50%;background:${c}`;document.body.appendChild(d);}
leg24.forEach((s,i)=>{dot(66.3,legY[i],legCols[i],i?3.6:3);txt(74.7,legY[i],s,{left:true,size:13.8});});
leg48.forEach((s,i)=>{dot(401.7,legY[i],legCols[i],i?3.6:3);txt(410.3,legY[i],s,{left:true,size:13.8});});

txt(266.7,375.5,'24 HAS',{size:14,bold:true});
txt(577,375.5,'48 HAS',{size:14,bold:true});
txt(9,415,'Up',{size:14,bold:true,rot:true});
txt(9,511,'Down',{size:14,bold:true,rot:true});
txt(353,615,'Number of genes',{size:14,bold:true});
txt(639.3,416,'\u2013log10',{size:12,bold:true,left:true});
txt(639.3,431.7,'adj. <i>p</i>-value',{size:12,bold:true,left:true});
binLabels.forEach((s,i)=>{
  const y=446+i*14.3;
  const d=document.createElement('div');d.className='s';
  d.style.cssText+=`left:642px;top:${y}px;width:13.6px;height:14.9px;background:${binColours[i]};border:1.5px solid #161616`;
  document.body.appendChild(d);
  txt(660,y+7.2,s,{size:12.5,left:true});
});
</script>
</body></html>
